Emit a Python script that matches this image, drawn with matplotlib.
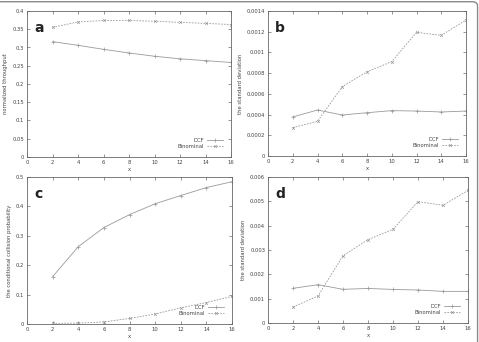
import matplotlib
matplotlib.use("Agg")
import matplotlib.pyplot as plt
import matplotlib.ticker as mticker
from matplotlib.patches import FancyBboxPatch
import numpy as np

# data
x_vals = [2, 4, 6, 8, 10, 12, 14, 16]

thr_dcf = [0.316, 0.306, 0.295, 0.285, 0.276, 0.269, 0.264, 0.259]
thr_bin = [0.355, 0.370, 0.374, 0.374, 0.372, 0.369, 0.366, 0.363]

sd_small_dcf = [0.000377, 0.000444, 0.000396, 0.000418, 0.000438, 0.000434, 0.000425, 0.000434]
sd_small_bin = [0.000274, 0.000335, 0.000669, 0.000814, 0.000911, 0.001194, 0.001165, 0.001313]

coll_dcf = [0.161, 0.263, 0.328, 0.372, 0.409, 0.437, 0.464, 0.484]
coll_bin = [0.002, 0.003, 0.007, 0.019, 0.034, 0.055, 0.073, 0.094]

sd_large_dcf = [0.001425, 0.001575, 0.001384, 0.001420, 0.001380, 0.001356, 0.001300, 0.001300]
sd_large_bin = [0.000658, 0.001110, 0.002767, 0.003425, 0.003850, 0.004986, 0.004836, 0.005450]

LINE_COL = "#9a9a9a"
TXT_COL = "#444444"
FS = 3.8

fig = plt.figure(figsize=(4.79, 3.42), dpi=100, facecolor="white")

panels = [
    # letter, rect, dcf, bin, ylabel, ymax, ystep
    ("a", [27 / 479, 185 / 342, 204 / 479, 146 / 342], thr_dcf, thr_bin,
     "normalized throughput", 0.4, 0.05),
    ("b", [268 / 479, 186 / 342, 198 / 479, 145 / 342], sd_small_dcf, sd_small_bin,
     "the standard deviation", 0.0014, 0.0002),
    ("c", [27 / 479, 18 / 342, 205 / 479, 147 / 342], coll_dcf, coll_bin,
     "the conditional collision probability", 0.5, 0.1),
    ("d", [268 / 479, 19 / 342, 200 / 479, 146 / 342], sd_large_dcf, sd_large_bin,
     "the standard deviation", 0.006, 0.001),
]

for letter, rect, dcf, binom, ylab, ymax, ystep in panels:
    ax = fig.add_axes(rect)
    ax.plot(x_vals, dcf, color=LINE_COL, lw=0.6, marker="+", ms=2.5,
            mew=0.5, label="DCF")
    ax.plot(x_vals, binom, color=LINE_COL, lw=0.6, ls=(0, (2, 1.5)),
            marker="x", ms=2, mew=0.5, label="Binominal")
    ax.set_xlim(0, 16)
    ax.set_ylim(0, ymax)
    ax.set_xticks(np.arange(0, 17, 2))
    ax.set_yticks(np.arange(0, ymax + ystep / 2, ystep))
    ax.yaxis.set_major_formatter(mticker.FuncFormatter(lambda v, _: f"{v:.6g}"))
    ax.tick_params(direction="in", length=2, width=0.4, labelsize=FS,
                   colors=TXT_COL, top=True, right=True, pad=2)
    for s in ax.spines.values():
        s.set_color("#666666")
        s.set_linewidth(0.6)
    ax.set_xlabel("x", fontsize=FS, color=TXT_COL, labelpad=1.5)
    ax.set_ylabel(ylab, fontsize=FS, color=TXT_COL, labelpad=3)
    ax.text(0.035, 0.93, letter, transform=ax.transAxes, fontsize=10,
            fontweight="bold", va="top", ha="left", color="#222222")
    leg = ax.legend(loc="lower right", bbox_to_anchor=(0.97, 0.04),
                    frameon=False, fontsize=FS, markerfirst=False,
                    handlelength=3, handletextpad=0.6, labelspacing=0.2,
                    borderaxespad=0)
    for t in leg.get_texts():
        t.set_color(TXT_COL)

# outer frame with a rounded corner, partly cut by the image edge
frame = FancyBboxPatch((-0.02, -0.02), 1.017, 1.015,
                       boxstyle="round,pad=0,rounding_size=0.012",
                       transform=fig.transFigure, fill=False,
                       edgecolor="#8a8a8a", lw=1.0)
fig.patches.append(frame)

fig.savefig("out.png", dpi=100, facecolor="white")
